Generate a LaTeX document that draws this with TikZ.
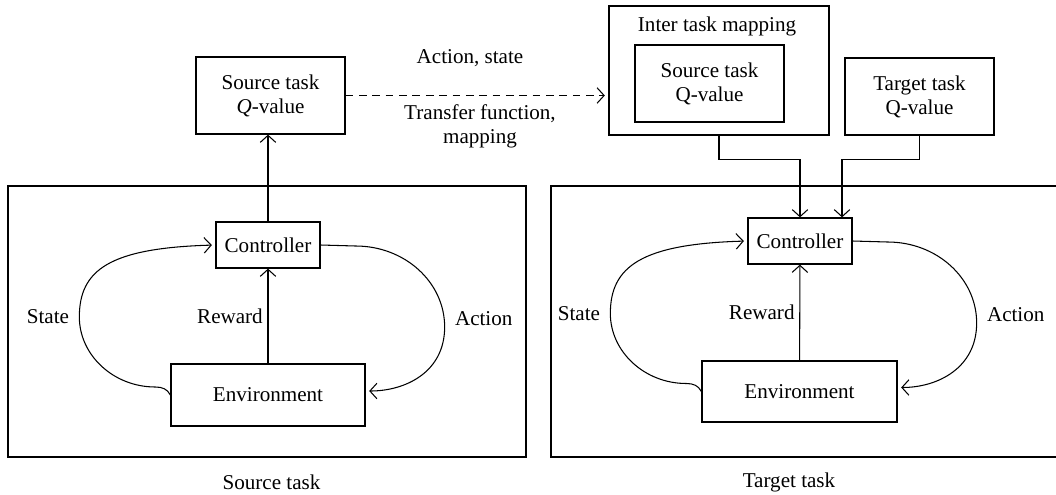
\documentclass[tikz,border=0pt]{standalone}
\usepackage{fontspec}
\setmainfont{Liberation Serif}
\usetikzlibrary{arrows.meta,calc,positioning}

\begin{document}
\begin{tikzpicture}[
  x=0.025cm, y=-0.025cm,
  font=\fontsize{15}{17}\selectfont,
  box/.style={rectangle, draw, line width=0.9pt, inner sep=0pt, align=center},
  qbox/.style={box, minimum width=3.725cm, minimum height=1.925cm},
  frame/.style={draw, line width=1.1pt},
  arrow/.style={->, line width=0.75pt, >={Straight Barb[length=5pt,width=11pt]}},
  loop/.style={arrow, shorten >=2.5pt}
]
  \useasboundingbox (0,0) rectangle (1056,494);

  % Source task
  \draw[frame] (8,186) rectangle (526,457);
  \node[box, minimum width=2.6cm, minimum height=1.15cm] (scon) at (268,245) {Controller};
  \node[box, minimum width=4.85cm, minimum height=1.55cm] (senv) at (268,395) {Environment};
  \node (slabel) at (271.5,482) {Source task};
  \node[qbox] (sq) at (270.5,95.5) {Source task\\\textit{Q}-value};

  % Target task
  \draw[frame] (551,186) rectangle (1064,457);
  \node[box, minimum width=2.6cm, minimum height=1.15cm] (tcon) at (800,241) {Controller};
  \node[box, minimum width=4.875cm, minimum height=1.525cm] (tenv) at (799.5,391.5) {Environment};
  \node (tlabel) at (789,482) {Target task};

  % Inter task mapping
  \node[box, minimum width=5.5cm, minimum height=3.225cm] (inter) at (719,70.5) {};
  \node (intertitle) at (717,26) {Inter task mapping};
  \node[qbox] (iq) at (709.5,83.5) {Source task\\Q-value};
  \node[qbox] (tq) at (919.5,96.5) {Target task\\Q-value};

  % Transfer
  \node (actst) at (470,58) {Action, state};
  \node[align=center] (tfmap) at (480,126) {Transfer function,\\mapping};
  \draw[loop, dash pattern=on 5.5pt off 4pt] (sq.east) -- (sq.east -| inter.west);
  \draw[arrow] (scon.north) -- (scon.north |- sq.south);
  \draw[arrow] (inter.south) -- ++(0,24) -| (tcon.north);
  \draw[arrow] (tq.south) -- ++(0,24) -| ([xshift=1.05cm]tcon.north);

  % Source loop
  \draw[arrow] (senv) -- node[left] {Reward} (scon);
  \draw[loop] (senv.west) .. controls +(-3,-6) and +(7,0) .. ($(senv.west)+(-15,-8)$)
    .. controls +(-42,0) and +(0,38) .. ($(senv.west)+(-91,-78)$) node[left, inner sep=7pt] {State}
    .. controls +(0,-47) and +(-106,3) .. (scon.west);
  \draw[loop] (scon.east) -- ++(35,1)
    .. controls +(49,0) and +(0,-45) .. ($(scon.east)+(124,82)$) node[right, inner sep=7pt, yshift=6pt] {Action}
    .. controls +(0,45) and +(40,0) .. ($(senv.east)+(0,-4)$);

  % Target loop
  \draw[arrow] (tenv) -- node[left] {Reward} (tcon);
  \draw[loop] (tenv.west) .. controls +(-3,-6) and +(7,0) .. ($(tenv.west)+(-15,-8)$)
    .. controls +(-42,0) and +(0,38) .. ($(tenv.west)+(-91,-78)$) node[left, inner sep=7pt] {State}
    .. controls +(0,-47) and +(-106,3) .. (tcon.west);
  \draw[loop] (tcon.east) -- ++(35,1)
    .. controls +(49,0) and +(0,-45) .. ($(tcon.east)+(124,82)$) node[right, inner sep=7pt, yshift=6pt] {Action}
    .. controls +(0,45) and +(40,0) .. ($(tenv.east)+(0,-4)$);
\end{tikzpicture}
\end{document}
